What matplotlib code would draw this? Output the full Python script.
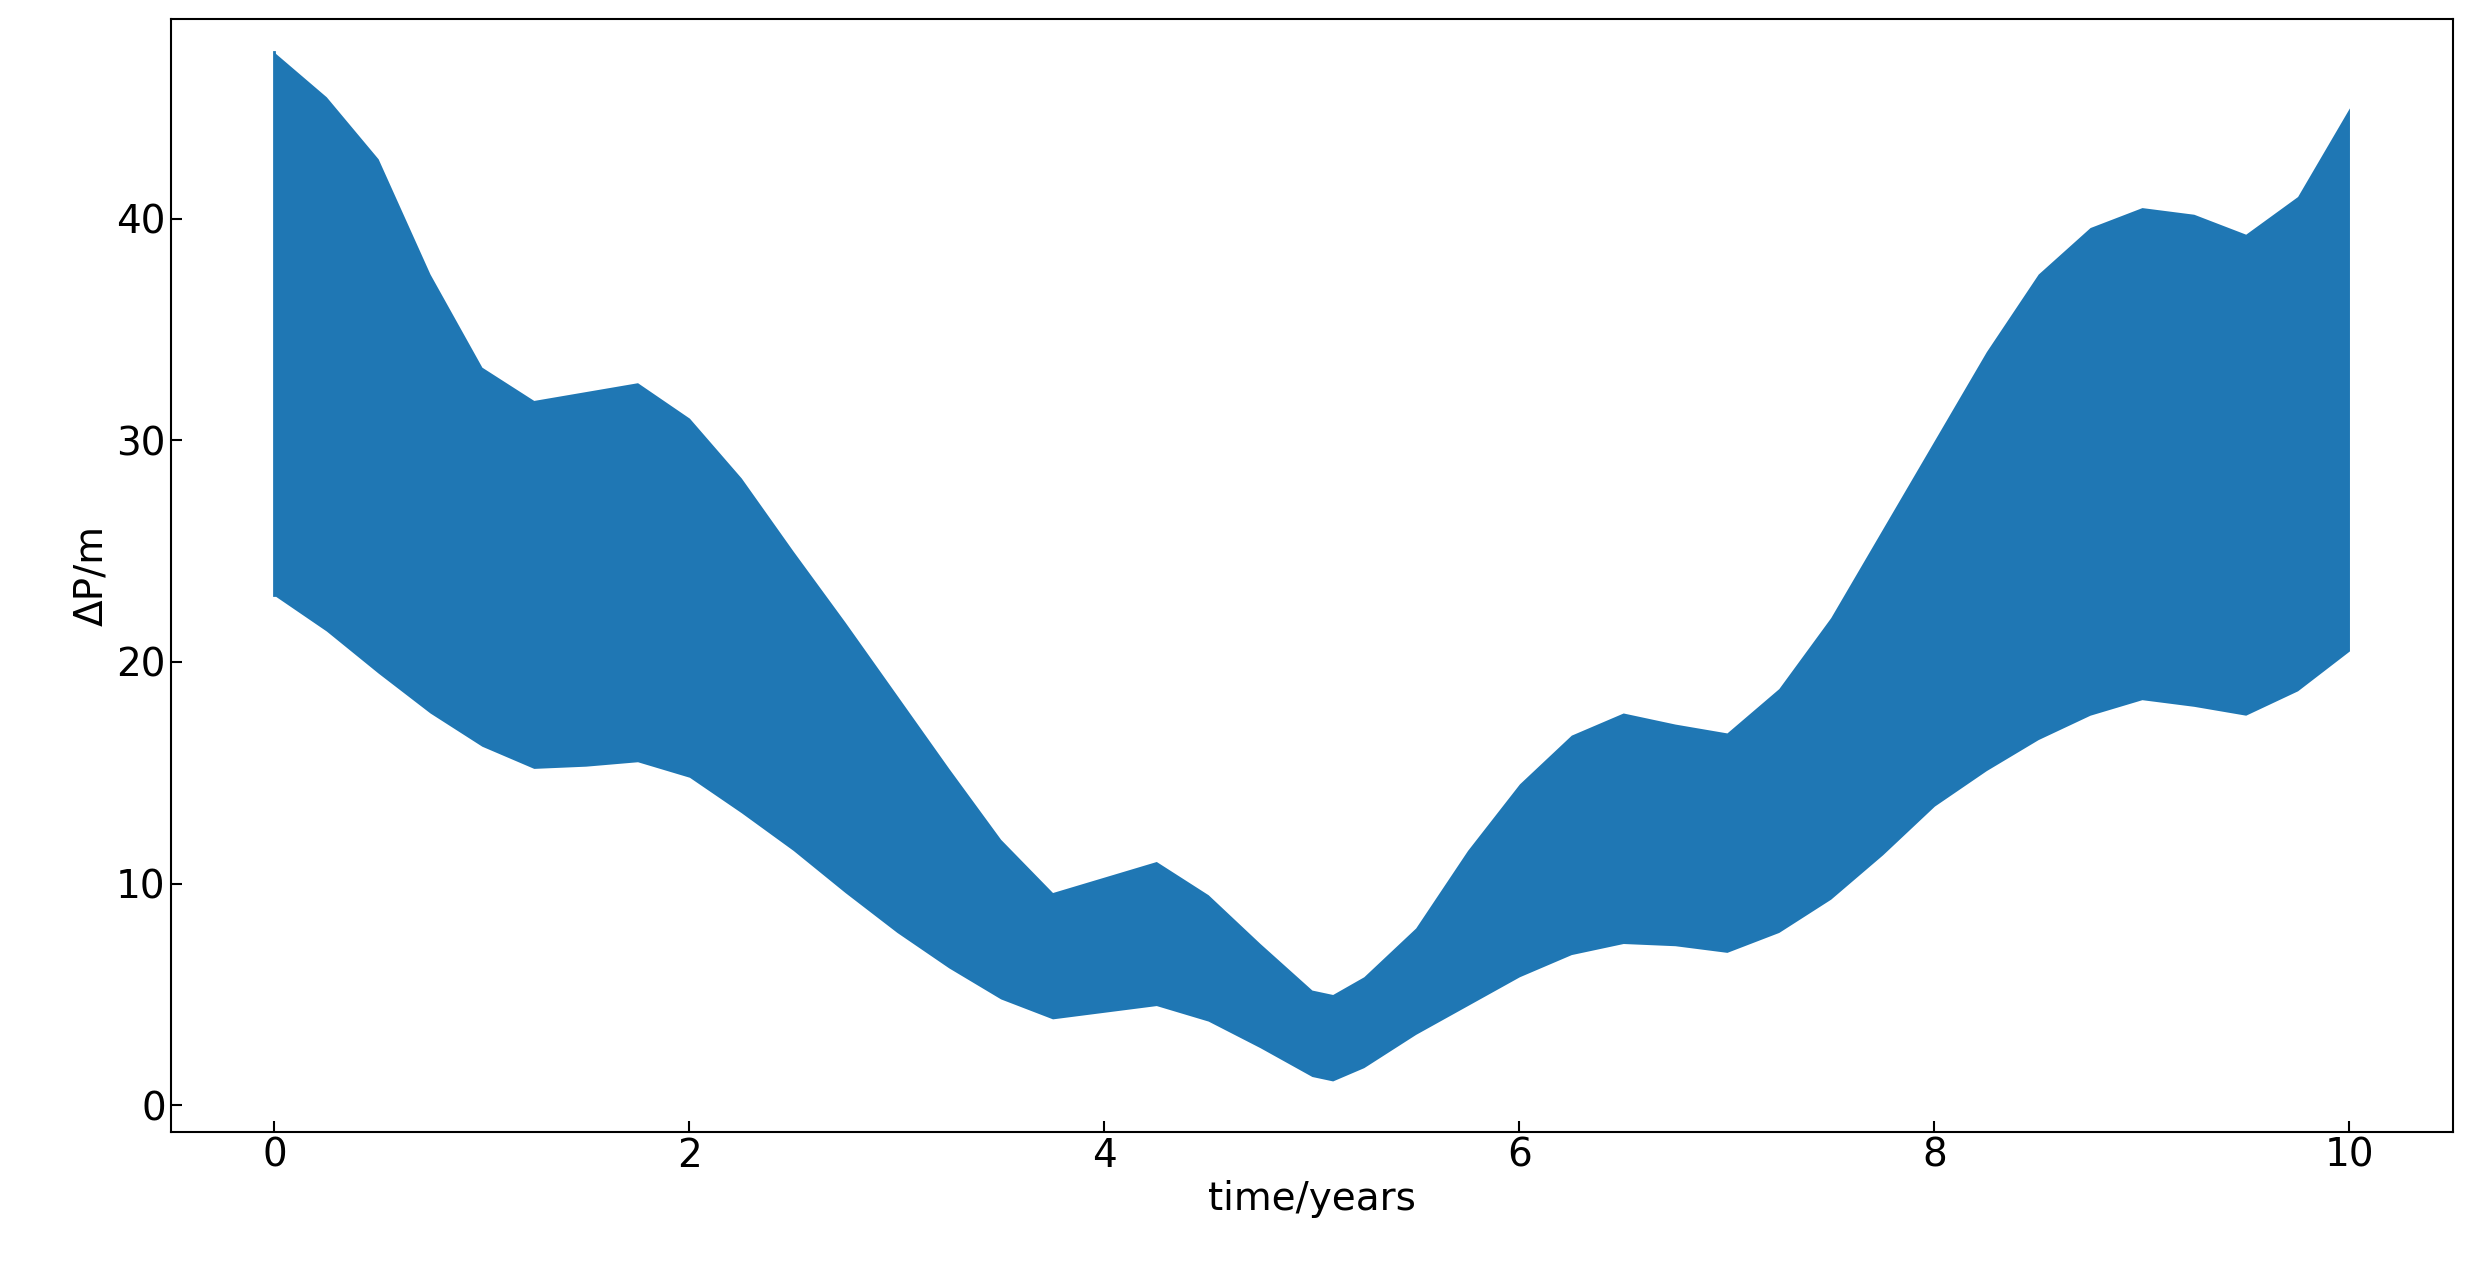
import matplotlib
matplotlib.use("Agg")
import matplotlib.pyplot as plt

# envelope of the oscillating signal
t = [0, 0.25, 0.5, 0.75, 1, 1.25, 1.5, 1.75, 2, 2.25, 2.5, 2.75, 3, 3.25, 3.5, 3.75,
     4, 4.25, 4.5, 4.75, 5, 5.1, 5.25, 5.5, 5.75, 6, 6.25, 6.5, 6.75, 7, 7.25, 7.5,
     7.75, 8, 8.25, 8.5, 8.75, 9, 9.25, 9.5, 9.75, 10]
upper = [47.5, 45.5, 42.7, 37.5, 33.3, 31.8, 32.2, 32.6, 31.0, 28.3, 25.0, 21.8, 18.5, 15.2, 12.0, 9.6,
         10.3, 11.0, 9.5, 7.3, 5.2, 5.0, 5.8, 8.0, 11.5, 14.5, 16.7, 17.7, 17.2, 16.8, 18.8, 22.0,
         26.0, 30.0, 34.0, 37.5, 39.6, 40.5, 40.2, 39.3, 41.0, 45.0]
lower = [23.0, 21.4, 19.5, 17.7, 16.2, 15.2, 15.3, 15.5, 14.8, 13.2, 11.5, 9.6, 7.8, 6.2, 4.8, 3.9,
         4.2, 4.5, 3.8, 2.6, 1.3, 1.1, 1.7, 3.2, 4.5, 5.8, 6.8, 7.3, 7.2, 6.9, 7.8, 9.3,
         11.3, 13.5, 15.1, 16.5, 17.6, 18.3, 18.0, 17.6, 18.7, 20.5]

fig = plt.figure(figsize=(24.73, 12.79), dpi=100)
ax = fig.add_axes([0.069, 0.115, 0.923, 0.87])
ax.fill_between(t, lower, upper, color='#1f77b4', linewidth=0)
ax.plot([0, 0], [lower[0], upper[0]], color='#1f77b4', linewidth=2)
ax.set_xlim(-0.5, 10.5)
ax.set_ylim(-1.2, 49)
ax.set_xticks([0, 2, 4, 6, 8, 10])
ax.set_yticks([0, 10, 20, 30, 40])
ax.tick_params(direction='in', labelsize=28, length=8, width=1.5)
for s in ax.spines.values():
    s.set_linewidth(1.5)
ax.set_xlabel('time/years', fontsize=28)
ax.set_ylabel('ΔP/m', fontsize=28)
fig.savefig('out.png', dpi=100)
